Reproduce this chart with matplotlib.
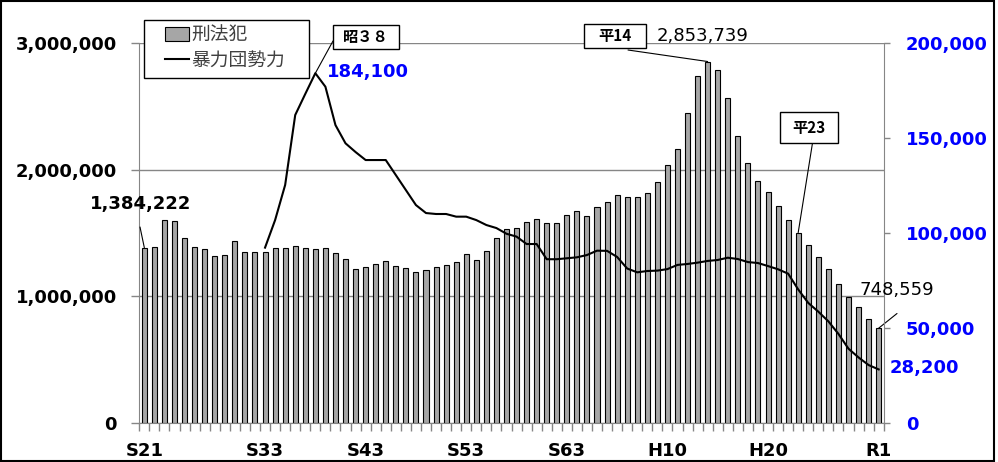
import matplotlib
matplotlib.use("Agg")
import matplotlib.pyplot as plt
from matplotlib.patches import Rectangle, Patch
from matplotlib.lines import Line2D
from matplotlib.ticker import FuncFormatter
import numpy as np

# ---------------- data ----------------
years = list(range(1946, 2020))  # S21 .. R1
tick_labels = {0: "S21", 12: "S33", 22: "S43", 32: "S53", 42: "S63",
               52: "H10", 62: "H20", 73: "R1"}

crime = [1384222, 1386020, 1603265, 1597000, 1461044, 1387000, 1371000, 1318000,
         1326000, 1437000, 1347000, 1347000, 1347000, 1379000, 1379000, 1397000,
         1379000, 1371000, 1379000, 1339000, 1292000, 1213000, 1229000, 1255000,
         1276000, 1237000, 1221000, 1189000, 1205000, 1229000, 1247000, 1268000,
         1334000, 1284000, 1357461, 1463228, 1528726, 1540717, 1588693, 1607697,
         1581411, 1577954, 1641310, 1673268, 1636628, 1707877, 1742366, 1801150,
         1784432, 1782944, 1812119, 1899564, 2033546, 2165626, 2443470, 2735612,
         2853739, 2790136, 2562767, 2269572, 2050850, 1908836, 1826330, 1713832,
         1604019, 1502951, 1403167, 1314140, 1212163, 1098969, 996120, 915042,
         817338, 748559]

gang = [None] * 12 + [
    92300, 106800, 125300, 162100, 173200, 184100, 177000, 156800, 147200, 142600,
    138400, 138400, 138400, 130500, 122600, 114700, 110500, 110000, 110000, 108600,
    108600, 106800, 104200, 102600, 99600, 98100, 94200, 94200, 86200, 86200,
    86700, 87200, 88400, 90700, 90600, 87400, 81300, 79300, 80000, 80200,
    81000, 83200, 83700, 84400, 85300, 85800, 87000, 86300, 84700, 84200,
    82600, 80900, 78600, 70300, 63200, 58600, 53500, 46900, 39100, 34500,
    30500, 28200]

# ---------------- figure ----------------
W, H = 998, 462
fig = plt.figure(figsize=(W / 100, H / 100), dpi=100)
L, R, B, T = 139.3, 883.7, 423, 43
ax = fig.add_axes([L / W, 1 - B / H, (R - L) / W, (B - T) / H])
ax2 = ax.twinx()

JP = ["Noto Sans CJK JP", "DejaVu Sans"]
GRAY = "#868686"
BLUE = "#0000FF"

x = np.arange(len(years))
ax.bar(x, crime, width=0.5, color="#A6A6A6", edgecolor="black", linewidth=0.8, zorder=2)
gx = [i for i, v in enumerate(gang) if v is not None]
gy = [v for v in gang if v is not None]
ax2.plot(gx, gy, color="black", linewidth=1.5, zorder=3)

ax.set_xlim(-0.5, len(years) - 0.5)
ax.set_ylim(0, 3000000)
ax2.set_ylim(0, 200000)
ax.set_yticks([0, 1000000, 2000000, 3000000])
ax2.set_yticks([0, 50000, 100000, 150000, 200000])
fmt = FuncFormatter(lambda v, p: f"{int(v):,}")
ax.yaxis.set_major_formatter(fmt)
ax2.yaxis.set_major_formatter(fmt)

ax.set_axisbelow(True)
ax.grid(axis="y", color=GRAY, linewidth=1)
ax.set_xticks(list(tick_labels.keys()))
ax.set_xticklabels(list(tick_labels.values()))
ax.set_xticks(np.arange(-0.5, len(years)), minor=True)
ax.tick_params(axis="x", which="major", length=0, pad=14, labelsize=13)
ax.tick_params(axis="x", which="minor", length=6, color=GRAY, width=1)
for lab in ax.get_xticklabels():
    lab.set_fontweight("bold")
ax.tick_params(axis="y", length=6, color=GRAY, width=1, pad=10, labelsize=13)
for lab in ax.get_yticklabels():
    lab.set_fontweight("bold")
ax2.tick_params(axis="y", length=4, color=GRAY, width=1, pad=12, labelsize=13,
                labelcolor=BLUE)
for lab in ax2.get_yticklabels():
    lab.set_fontweight("bold")

for s in ["top", "right"]:
    ax.spines[s].set_visible(False)
for s in ["left", "bottom"]:
    ax.spines[s].set_color(GRAY)
for s in ["top", "left", "bottom"]:
    ax2.spines[s].set_visible(False)
ax2.spines["right"].set_color(GRAY)


def fx(px):
    return px / W


def fy(py):
    return 1 - py / H


# ---------------- legend ----------------
fig.add_artist(Rectangle((fx(144), fy(78)), 165 / W, 58 / H,
                         transform=fig.transFigure, facecolor="white",
                         edgecolor="black", linewidth=1, zorder=4))
handles = [Patch(facecolor="#A6A6A6", edgecolor="black", linewidth=0.8),
           Line2D([0], [0], color="black", linewidth=1.5)]
leg = fig.legend(handles, ["刑法犯", "暴力団勢力"], loc="upper left",
                 bbox_to_anchor=(fx(165), fy(24.5)), borderaxespad=0,
                 prop={"family": JP, "size": 13.5}, labelcolor="#404040",
                 frameon=False, handlelength=1.3, handletextpad=0.1,
                 labelspacing=0.22, borderpad=0)
leg.set_zorder(5)


def callout(text, box, start, xy, axis):
    x0, y0, x1, y1 = box
    fig.add_artist(Rectangle((fx(x0), fy(y1)), (x1 - x0) / W, (y1 - y0) / H,
                             transform=fig.transFigure, facecolor="white",
                             edgecolor="black", linewidth=1, zorder=6))
    fig.text(fx((x0 + x1) / 2), fy((y0 + y1) / 2), text, ha="center", va="center",
             family=JP, fontsize=11, fontweight="bold", zorder=7)
    axis.annotate("", xy=xy, xycoords="data", xytext=(fx(start[0]), fy(start[1])),
                  textcoords="figure fraction",
                  arrowprops=dict(arrowstyle="-", color="black", lw=0.8,
                                  shrinkA=0, shrinkB=0))


callout("昭３８", (333, 25, 399, 49), (333, 41), (17, gang[17]), ax2)
callout("平14", (584, 24, 646, 48), (628, 50), (56, crime[56]), ax)
callout("平23", (780, 112, 838, 143), (812.5, 143), (65, crime[65]), ax)

# value labels
fig.text(fx(140.5), fy(204), f"{crime[0]:,}", ha="center", va="center",
         fontsize=13, fontweight="bold", color="black")
ax.annotate("", xy=(0, crime[0]), xytext=(fx(140), fy(227)),
            textcoords="figure fraction",
            arrowprops=dict(arrowstyle="-", color="black", lw=0.8, shrinkA=0, shrinkB=0))
fig.text(fx(368), fy(72.5), f"{gang[17]:,}", ha="center", va="center",
         fontsize=13, fontweight="bold", color=BLUE)
fig.text(fx(703), fy(36), f"{crime[56]:,}", ha="center", va="center",
         fontsize=13, color="black")
fig.text(fx(896.5), fy(290), f"{crime[73]:,}", ha="center", va="center",
         fontsize=13, color="black")
ax.annotate("", xy=(73, crime[73]), xytext=(fx(897), fy(313.5)),
            textcoords="figure fraction",
            arrowprops=dict(arrowstyle="-", color="black", lw=0.8, shrinkA=0, shrinkB=0))
fig.text(fx(924), fy(368.5), f"{gang[73]:,}", ha="center", va="center",
         fontsize=13, fontweight="bold", color=BLUE)

# outer border
fig.add_artist(Rectangle((fx(1), fy(460.5)), 993 / W, 459.5 / H,
                         transform=fig.transFigure, fill=False,
                         edgecolor="black", linewidth=1.5, zorder=10))

fig.savefig("out.png", dpi=100)
